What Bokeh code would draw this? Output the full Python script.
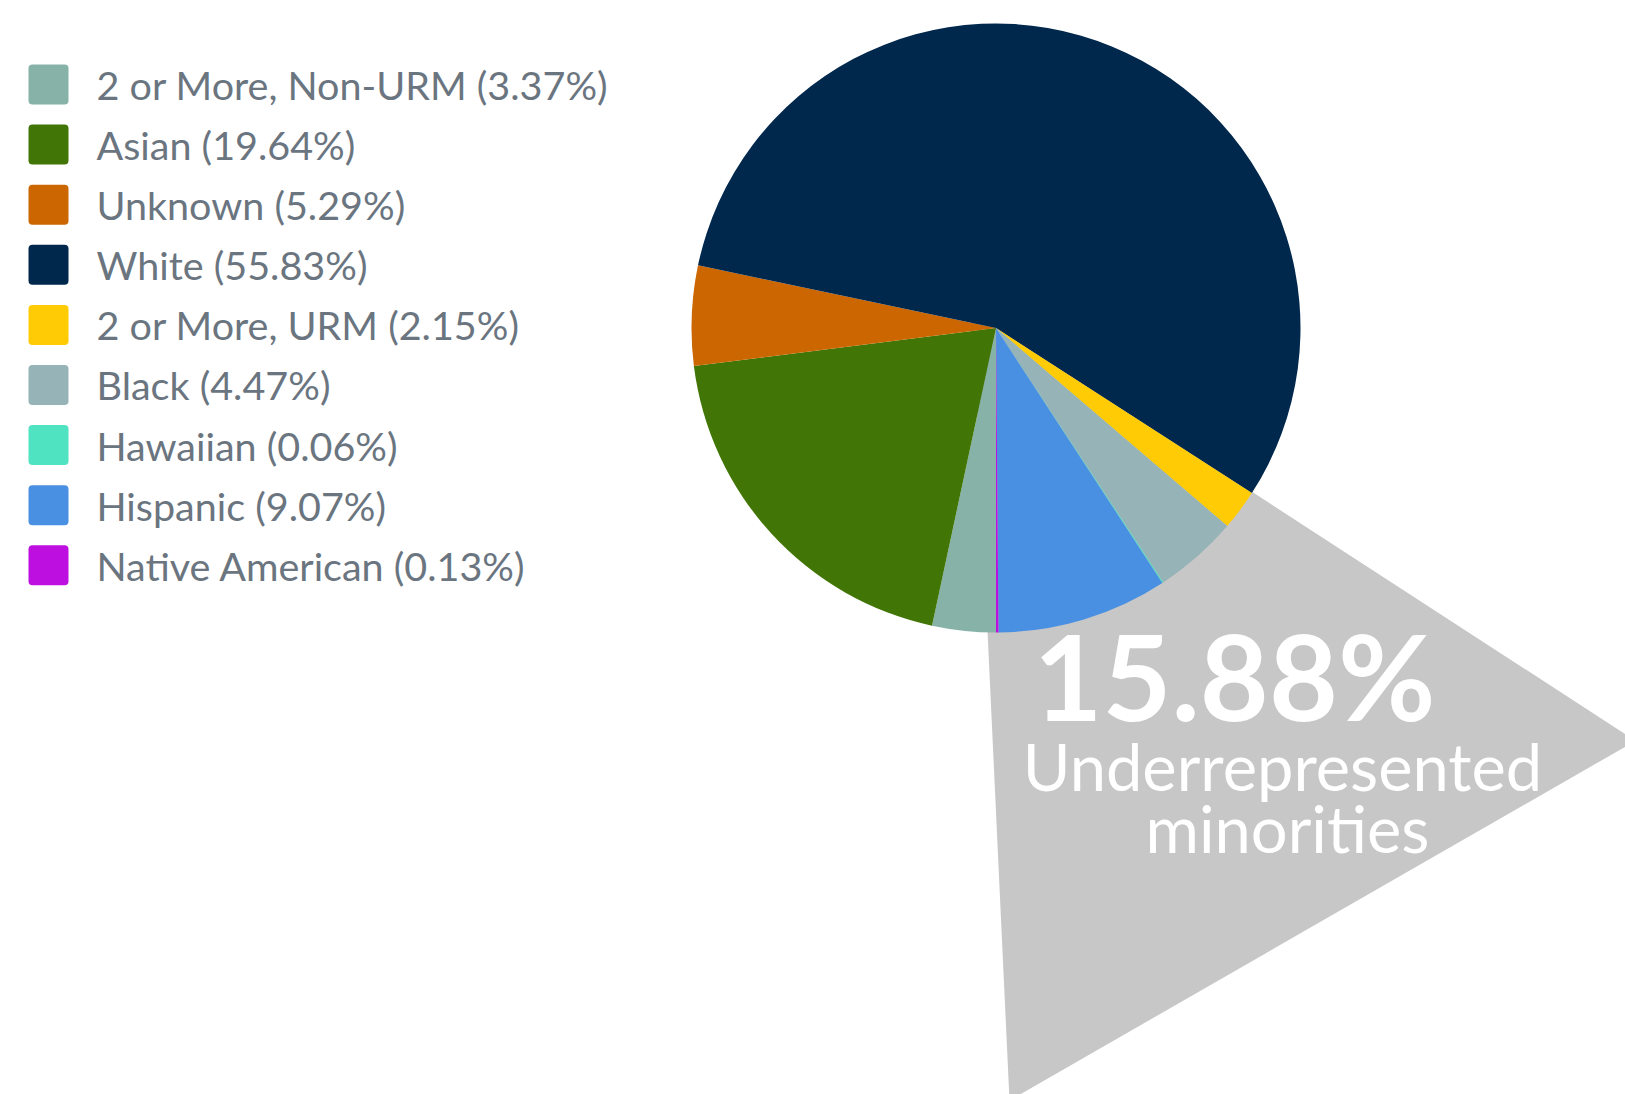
import math
from bokeh.plotting import figure
from bokeh.models import Range1d, ColumnDataSource
from bokeh.models.glyphs import Rect
from bokeh.core.properties import value
from bokeh.embed import file_html
from bokeh.resources import INLINE

# ---------------- data ----------------
categories = ["2 or More, Non-URM", "Asian", "Unknown", "White", "2 or More, URM",
              "Black", "Hawaiian", "Hispanic", "Native American"]
percents = [3.37, 19.64, 5.29, 55.83, 2.15, 4.47, 0.06, 9.07, 0.13]
colors = ["#86B2A8", "#417505", "#CC6600", "#00274C", "#FFCB05",
          "#96B3B8", "#50E3C2", "#4A90E2", "#BD10E0"]
urm_flags = [False, False, False, False, True, True, True, True, True]
callout_label = "Underrepresented"
callout_label2 = "minorities"

# ---------------- layout ----------------
W, H = 1625, 1094
BASE_FIX = 0.38  # em shift so that the alphabetic baseline lands where intended

def sx(x):  # screen x -> data x
    return x
def sy(y):  # screen y -> data y
    return H - y
def base_y(y, size):  # screen baseline -> data y for text
    return H - y + BASE_FIX * size

CX, CY, R = sx(995.5), sy(327.5), 304.5
FONT = "Lato"
TEXT_COLOR = "#6A7580"
GRAY = "#C7C7C7"

p = figure(width=W, height=H, output_backend="svg", toolbar_location=None,
           x_range=Range1d(0, W), y_range=Range1d(0, H),
           x_axis_type=None, y_axis_type=None, min_border=0,
           outline_line_color=None, background_fill_color="white",
           border_fill_color="white")
p.grid.visible = False

total = sum(percents)
fracs = [v / total for v in percents]

# pie angles: start at bottom, clockwise
starts, ends = [], []
cum = 0.0
for f in fracs:
    a_start_cw = -math.pi / 2 - 2 * math.pi * cum
    cum += f
    a_end_cw = -math.pi / 2 - 2 * math.pi * cum
    starts.append(a_end_cw)
    ends.append(a_start_cw)

# callout triangle (behind the pie), pointing from URM span
urm_start_idx = urm_flags.index(True)
cum_before_urm = sum(fracs[:urm_start_idx])
theta_urm = -math.pi / 2 - 2 * math.pi * cum_before_urm
tip_right = (CX + 2.5 * R * math.cos(theta_urm), CY + 2.5 * R * math.sin(theta_urm))
apex = (sx(972), sy(310))
tip_bottom = (sx(1009), sy(1100))
p.patch([apex[0], tip_right[0], tip_bottom[0]], [apex[1], tip_right[1], tip_bottom[1]],
        fill_color=GRAY, line_color=None)

src = ColumnDataSource(dict(start=starts, end=ends, color=colors, cat=categories))
p.wedge(x=CX, y=CY, radius=R, start_angle="start", end_angle="end",
        direction="anticlock", fill_color="color", line_color=None, source=src)

# callout texts
urm_total = sum(v for v, u in zip(percents, urm_flags) if u)
big, small = 119, 65
p.text(x=[sx(1234)], y=[base_y(720, big)], text=[f"{urm_total:.2f}%"], text_font=value(FONT),
       text_font_style="bold", text_font_size=f"{big}px", text_color="white",
       text_align="center", text_baseline="alphabetic")
p.text(x=[sx(1282)], y=[base_y(790, small)], text=[callout_label], text_font=value(FONT),
       text_font_size=f"{small}px", text_color="white",
       text_align="center", text_baseline="alphabetic")
p.text(x=[sx(1287)], y=[base_y(852, small)], text=[callout_label2], text_font=value(FONT),
       text_font_size=f"{small}px", text_color="white",
       text_align="center", text_baseline="alphabetic")

# legend
row_gap = 60.1
leg_size = 39.5
n = len(categories)
leg_sy = [84 + i * row_gap for i in range(n)]
leg_labels = [f"{c} ({v:.2f}%)" for c, v in zip(categories, percents)]
leg_src = ColumnDataSource(dict(x=[sx(48)] * n, y=[sy(s) for s in leg_sy], color=colors,
                                tx=[sx(96)] * n,
                                ty=[base_y(s + 15, leg_size) for s in leg_sy],
                                label=leg_labels))
rect_kwargs = dict(x="x", y="y", width=40, height=40, fill_color="color",
                   line_color=None, source=leg_src)
if "border_radius" in Rect.properties():
    rect_kwargs["border_radius"] = 4
p.rect(**rect_kwargs)
p.text(x="tx", y="ty", text="label", text_font=value(FONT), text_font_size=f"{leg_size}px",
       text_color=TEXT_COLOR, text_align="left", text_baseline="alphabetic",
       source=leg_src)

open("out.html", "w").write(file_html(p, INLINE))
